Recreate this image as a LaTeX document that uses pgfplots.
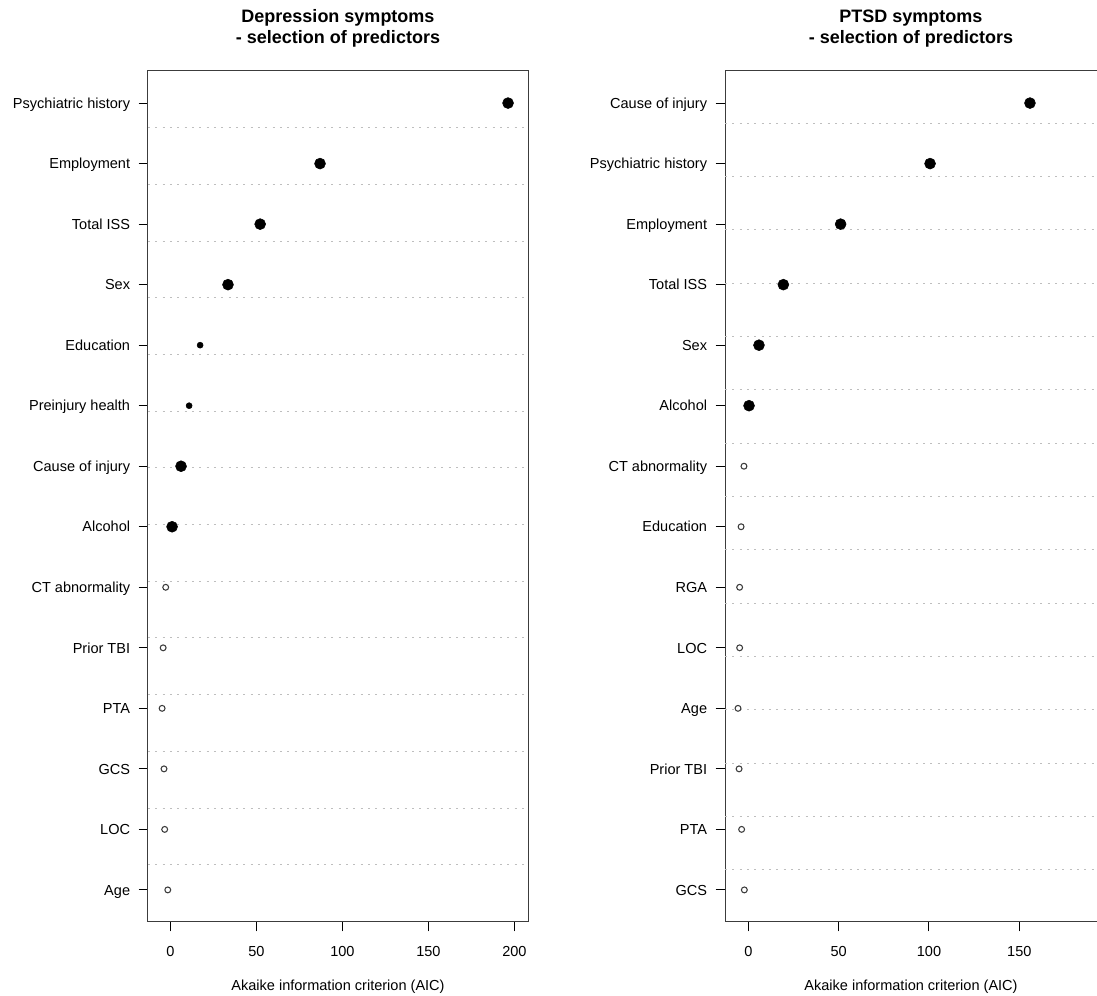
\documentclass[border=0pt]{standalone}
\usepackage{fontspec}
\setmainfont{Liberation Sans}
\usepackage{pgfplots}
\usepackage{pgfplotstable}
\pgfplotsset{compat=1.18}

\pgfplotstableread{
y x
14 196.3
13 87.0
12 52.2
11 33.5
8 6.2
7 1.0
}\depbig
\pgfplotstableread{
y x
10 17.3
9 10.9
}\depsmall
\pgfplotstableread{
y x
6 -2.7
5 -4.2
4 -4.8
3 -3.7
2 -3.3
1 -1.5
}\depopen
\pgfplotstableread{
y x
14 155.9
13 100.6
12 51.1
11 19.4
10 5.9
9 0.4
}\ptsdbig
\pgfplotstableread{
y x
8 -2.4
7 -4.0
6 -4.8
5 -4.8
4 -5.7
3 -5.1
2 -3.7
1 -2.2
}\ptsdopen

\definecolor{gridgray}{RGB}{190,190,190}
\definecolor{axgray}{RGB}{60,60,60}

\pgfplotsset{
  rplot/.style={
    scale only axis,
    height=638.25pt,
    ymin=0.47, ymax=14.53,
    ytick={1,...,14},
    tick align=outside,
    xtick pos=bottom,
    ytick pos=left,
    major tick length=7pt,
    axis line style={axgray, line width=0.75pt},
    every tick/.style={black, line width=0.75pt},
    tick label style={font=\fontsize{10.9}{13}\selectfont},
    label style={font=\fontsize{10.9}{13}\selectfont},
    /pgf/number format/assume math mode=true,
    xtick={0,50,...,200},
    xticklabel style={yshift=-7.4pt},
    yticklabel style={anchor=base east, yshift=-3.9pt, xshift=-2.9pt},
    xlabel={Akaike information criterion (AIC)},
    xlabel style={at={(axis description cs:0.5,0)}, anchor=center, yshift=-48.5pt},
    every axis title shift=0pt,
    title style={at={(axis description cs:0.5,1)}, anchor=south, align=center, inner sep=0pt, yshift=17.5pt,
                 font=\bfseries\fontsize{13.5}{16.1}\selectfont},
    extra y tick style={grid=major, major tick length=0pt, yticklabels={},
                        grid style={gridgray, line width=0.75pt, dash pattern=on 1.5pt off 4pt}},
    clip=false,
  },
  bigdot/.style={only marks, mark=*, mark size=4.1pt, mark options={black, fill=black}},
  smalldot/.style={only marks, mark=*, mark size=2.25pt, mark options={black, fill=black}},
  opendot/.style={only marks, mark=o, mark size=2.2pt, mark options={axgray, line width=0.8pt}},
}

\begin{document}
\begin{tikzpicture}
\path[use as bounding box] (0,0) rectangle (822.75pt,747pt);

\begin{axis}[rplot,
  at={(111pt,55.5pt)}, anchor=south west,
  width=285pt,
  xmin=-13.0, xmax=207.9,
  yticklabels={Age,LOC,GCS,PTA,Prior TBI,CT abnormality,Alcohol,Cause of injury,Preinjury health,Education,Sex,Total ISS,Employment,Psychiatric history},
  extra y ticks={13.592,12.655,11.719,10.782,9.846,8.909,7.972,7.036,6.099,5.163,4.226,3.289,2.353,1.416},
  title={Depression symptoms\\- selection of predictors},
]
\addplot[bigdot] table[x=x,y=y] {\depbig};
\addplot[smalldot] table[x=x,y=y] {\depsmall};
\addplot[opendot] table[x=x,y=y] {\depopen};
\end{axis}

\begin{axis}[rplot,
  at={(543.75pt,55.5pt)}, anchor=south west,
  width=279pt,
  xmin=-12.9, xmax=193.0,
  axis y line*=left,
  yticklabels={GCS,PTA,Prior TBI,Age,LOC,RGA,Education,CT abnormality,Alcohol,Sex,Total ISS,Employment,Psychiatric history,Cause of injury},
  extra y ticks={13.665,12.784,11.903,11.022,10.141,9.260,8.379,7.498,6.617,5.736,4.855,3.974,3.093,2.212,1.331},
  title={PTSD symptoms\\- selection of predictors},
]
\addplot[bigdot] table[x=x,y=y] {\ptsdbig};
\addplot[opendot] table[x=x,y=y] {\ptsdopen};
\end{axis}
\end{tikzpicture}
\end{document}
